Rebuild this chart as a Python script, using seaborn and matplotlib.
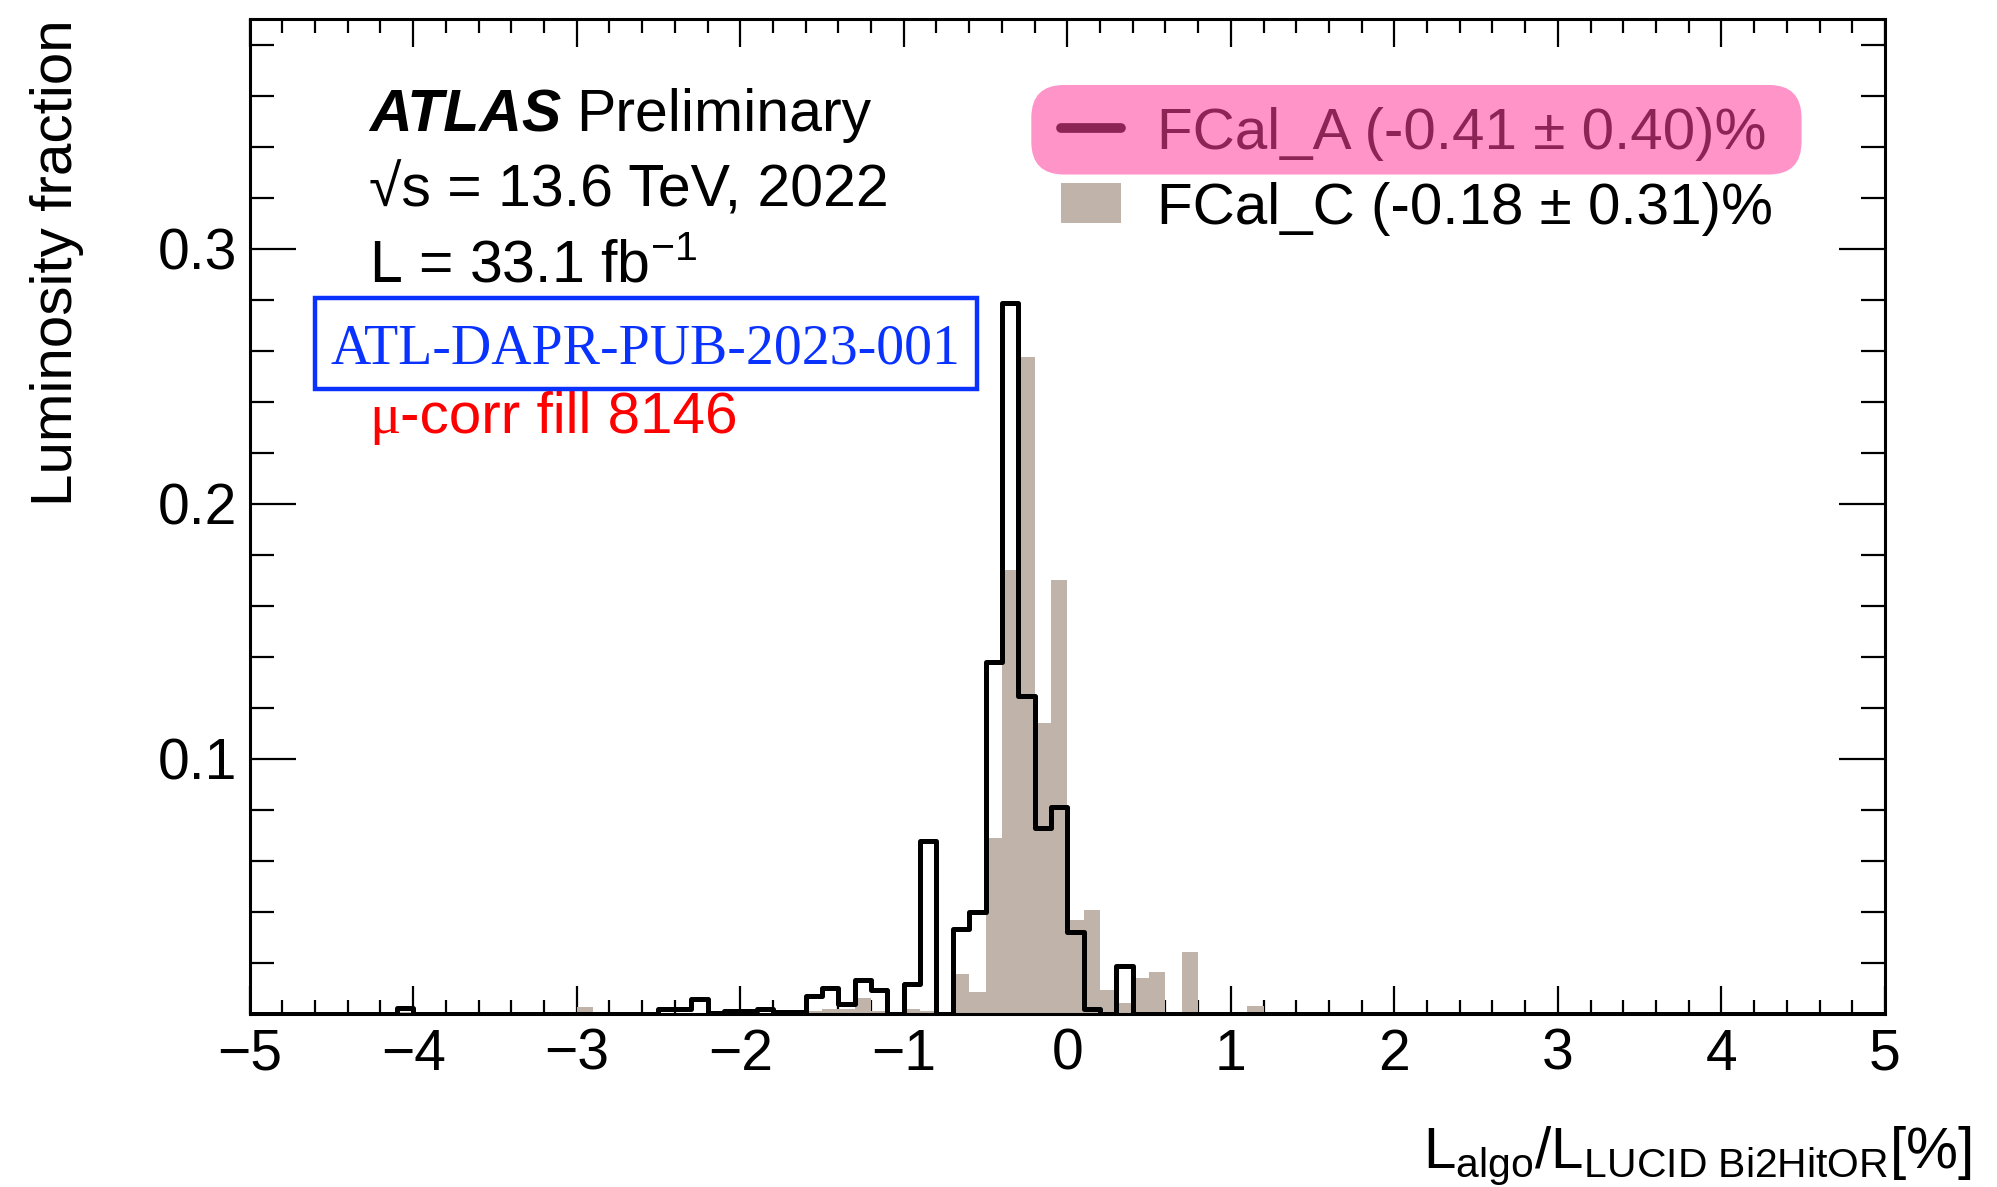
import numpy as np
import pandas as pd
import seaborn as sns
import matplotlib
matplotlib.use("Agg")
import matplotlib.pyplot as plt
from matplotlib.lines import Line2D
from matplotlib.patches import Patch, FancyBboxPatch, Rectangle
from matplotlib.ticker import MultipleLocator

# ---------------- data (bin centres of non-empty 0.1-wide bins, luminosity fraction) -------------
bin_edges = [round(v, 2) for v in np.arange(-5.0, 5.0001, 0.1)]

fcal_a_x = [-4.05, -2.45, -2.35, -2.25, -2.15, -2.05, -1.95, -1.85, -1.75, -1.65,
            -1.55, -1.45, -1.35, -1.25, -1.15, -0.95, -0.85, -0.65, -0.55, -0.45,
            -0.35, -0.25, -0.15, -0.05, 0.05, 0.15, 0.35]
fcal_a_frac = [0.0022, 0.0018, 0.0018, 0.0058, 0.0005, 0.0013, 0.0013, 0.0020, 0.0006, 0.0006,
               0.0070, 0.0103, 0.0038, 0.0133, 0.0095, 0.0116, 0.0680, 0.0335, 0.0400, 0.1380,
               0.2785, 0.1245, 0.0730, 0.0810, 0.0320, 0.0018, 0.0187]

fcal_c_x = [-4.05, -2.95, -2.45, -2.25, -2.05, -1.85, -1.65, -1.55, -1.45, -1.35,
            -1.25, -1.15, -0.95, -0.85, -0.65, -0.55, -0.45, -0.35, -0.25, -0.15,
            -0.05, 0.05, 0.15, 0.25, 0.35, 0.45, 0.55, 0.75, 1.15]
fcal_c_frac = [0.0008, 0.0026, 0.0004, 0.0005, 0.0005, 0.0005, 0.0005, 0.0010, 0.0020, 0.0020,
               0.0063, 0.0010, 0.0020, 0.0013, 0.0155, 0.0085, 0.0690, 0.1740, 0.2575, 0.1140,
               0.1700, 0.0367, 0.0408, 0.0095, 0.0045, 0.0143, 0.0165, 0.0244, 0.0031]

label_a = "FCal_A (-0.41 \u00b1 0.40)%"
label_c = "FCal_C (-0.18 \u00b1 0.31)%"
x_ticks = [-5, -4, -3, -2, -1, 0, 1, 2, 3, 4, 5]
y_ticks = [0.1, 0.2, 0.3]
y_ticklabels = ["0.1", "0.2", "0.3"]

df_a = pd.DataFrame({"x": fcal_a_x, "w": fcal_a_frac})
df_c = pd.DataFrame({"x": fcal_c_x, "w": fcal_c_frac})

# ---------------- style ----------------
sns.set_style("ticks")
plt.rcParams["font.family"] = ["Liberation Sans", "DejaVu Sans"]
plt.rcParams["mathtext.fontset"] = "custom"
plt.rcParams["mathtext.rm"] = "Liberation Sans"
plt.rcParams["mathtext.it"] = "Liberation Sans:italic"
plt.rcParams["mathtext.bf"] = "Liberation Sans:bold"
for key in ["text.color", "axes.labelcolor", "xtick.color", "ytick.color", "axes.edgecolor"]:
    plt.rcParams[key] = "black"

GRAY = "#c0b4aa"
PINK = "#ff94c8"
MAROON = "#8c2456"
BLUE = "#0a32ff"
FS = 42

fig = plt.figure(figsize=(19.97, 11.87), dpi=100)
ax = fig.add_axes([0.12499, 0.14575, 0.8189, 0.83824])

sns.histplot(data=df_c, x="x", weights="w", bins=bin_edges, element="step", fill=True,
             color=GRAY, alpha=1.0, linewidth=0, ax=ax)
sns.histplot(data=df_a, x="x", weights="w", bins=bin_edges, element="step", fill=False,
             color="black", linewidth=3.6, ax=ax)

ax.set_xlim(-5, 5)
ax.set_ylim(0, 0.39)
ax.set_xticks(x_ticks)
ax.set_yticks(y_ticks)
ax.set_yticklabels(y_ticklabels)
ax.xaxis.set_minor_locator(MultipleLocator(0.2))
ax.yaxis.set_minor_locator(MultipleLocator(0.02))
ax.tick_params(axis="both", which="both", direction="in", top=True, right=True,
               width=1.6, labelsize=41, color="black", labelcolor="black")
ax.tick_params(axis="x", which="major", length=20, pad=10)
ax.tick_params(axis="x", which="minor", length=10)
ax.tick_params(axis="y", which="major", length=33, pad=9)
ax.tick_params(axis="y", which="minor", length=17)
for s in ax.spines.values():
    s.set_linewidth(2.2)
    s.set_color("black")
    s.set_visible(True)

ax.set_ylabel("Luminosity fraction", fontsize=FS, loc="top", color="black")
ax.yaxis.set_label_coords(-0.101, 1.0)
ax.set_xlabel(r"$\mathrm{L_{algo}/L_{LUCID\ Bi2HitOR}}$[%]", fontsize=FS, ha="right",
              va="baseline", color="black")
ax.xaxis.set_label_coords(1.053, -0.155)

# ---------------- ATLAS labels ----------------
t_atlas = ax.text(0.073, 0.887, "ATLAS", transform=ax.transAxes, fontsize=42.5,
                  fontweight="bold", fontstyle="italic", va="baseline", ha="left", color="black")
ax.annotate("Preliminary", xy=(1, 0), xycoords=t_atlas, xytext=(11, 0),
            textcoords="offset points", fontsize=42.5, va="bottom", ha="left", color="black")
ax.text(0.073, 0.812, "\u221as = 13.6 TeV, 2022", transform=ax.transAxes, fontsize=42.5,
        va="baseline", ha="left", color="black")
ax.text(0.073, 0.735, r"L = 33.1 fb$^{\mathrm{-1}}$", transform=ax.transAxes, fontsize=42.5,
        va="baseline", ha="left", color="black")

ax.add_patch(Rectangle((0.0397, 0.6286), 0.4051, 0.091, transform=ax.transAxes,
                       facecolor="white", edgecolor=BLUE, linewidth=3.2, zorder=5))
ax.text(0.0492, 0.654, "ATL-DAPR-PUB-2023-001", transform=ax.transAxes, fontsize=40.2,
        family=["Liberation Serif", "DejaVu Serif"], color=BLUE, va="baseline", ha="left", zorder=6)

t_mu = ax.text(0.073, 0.584, "\u03bc", transform=ax.transAxes, fontsize=FS,
               family=["Liberation Serif", "DejaVu Serif"], color="red", va="baseline", ha="left")
ax.annotate("-corr fill 8146", xy=(1, 0), xycoords=t_mu, xytext=(0, 0),
            textcoords="offset points", fontsize=FS, color="red", va="bottom", ha="left")

# ---------------- legend ----------------
ax.add_patch(FancyBboxPatch((0.478, 0.8437), 0.471, 0.09, transform=ax.transAxes,
                            boxstyle="round,pad=0,rounding_size=0.02", mutation_aspect=1635 / 995,
                            facecolor=PINK, edgecolor="none", zorder=3))
handles = [Line2D([], [], color=MAROON, linewidth=7), Patch(facecolor=GRAY, edgecolor="none")]
leg = ax.legend(handles, [label_a, label_c], loc="upper left", bbox_to_anchor=(0.496, 0.912),
                frameon=False, fontsize=FS, handlelength=1.03, handleheight=0.66,
                handletextpad=0.62, labelspacing=0.36, borderpad=0, borderaxespad=0)
leg.set_zorder(4)
leg.get_texts()[0].set_color(MAROON)
leg.get_texts()[1].set_color("black")

fig.savefig("out.png", dpi=100)
